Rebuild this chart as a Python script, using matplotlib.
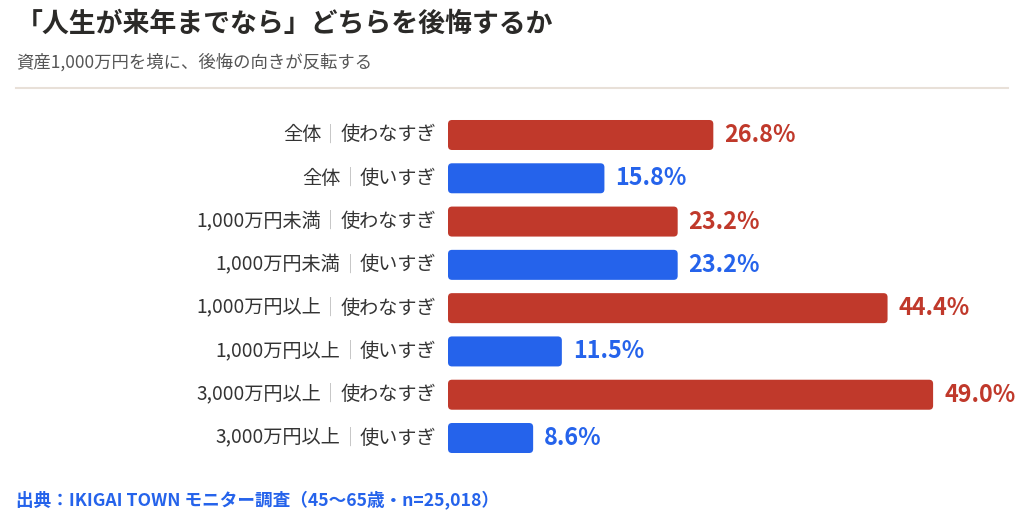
import numpy as np
import matplotlib
matplotlib.use("Agg")
import matplotlib.pyplot as plt
from matplotlib.patches import FancyBboxPatch
from matplotlib.transforms import offset_copy

plt.rcParams['font.family'] = ['Noto Sans CJK JP', 'DejaVu Sans']

# データ
groups = ["全体", "全体", "1,000万円未満", "1,000万円未満",
          "1,000万円以上", "1,000万円以上", "3,000万円以上", "3,000万円以上"]
kinds = ["使わなすぎ", "使いすぎ"] * 4
values = [26.8, 15.8, 23.2, 23.2, 44.4, 11.5, 49.0, 8.6]

RED = "#C0392B"
BLUE = "#2563EB"
colors = [RED if k == "使わなすぎ" else BLUE for k in kinds]

W, H = 1024, 523
fig = plt.figure(figsize=(W / 100, H / 100), dpi=100)
fig.patch.set_facecolor("white")

# 軸の配置(ピクセル)
ax_left, ax_right = 448, 1008
ax_top, ax_bot = 113.35, 459.65
ax = fig.add_axes([ax_left / W, 1 - ax_bot / H, (ax_right - ax_left) / W, (ax_bot - ax_top) / H])
px_per_unit = 9.9
ax.set_xlim(0, (ax_right - ax_left) / px_per_unit)
ax.set_ylim(len(values) - 0.5, -0.5)
ax.axis("off")

y = np.arange(len(values))
bars = ax.barh(y, values, height=0.693, color=colors)

# 角丸に置き換え
y_px_per_unit = (ax_bot - ax_top) / len(values)
for b, c in zip(bars, colors):
    x0, y0 = b.get_x(), b.get_y()
    w, h = b.get_width(), b.get_height()
    b.set_visible(False)
    r = 4 / px_per_unit
    p = FancyBboxPatch((x0, y0), w, h,
                       boxstyle=f"round,pad=0,rounding_size={r}",
                       mutation_aspect=px_per_unit / y_px_per_unit,
                       facecolor=c, edgecolor="none")
    ax.add_patch(p)

# 数値ラベル
for yi, v, c in zip(y, values, colors):
    tr = offset_copy(ax.transData, fig=fig, x=11, y=0, units="dots")
    ax.text(v, yi, f"{v:.1f}%", transform=tr, ha="left", va="center",
            fontsize=16.8, fontweight="bold", color=c)

# カテゴリラベル
for yi, g, k in zip(y, groups, kinds):
    tr = offset_copy(ax.transData, fig=fig, x=-12, y=0, units="dots")
    t1 = ax.text(0, yi, k, transform=tr, ha="right", va="center",
                 fontsize=13.8, color="#333333")
    sep = ax.annotate("｜", xy=(0, 0.5), xycoords=t1, ha="right", va="center",
                      fontsize=13.8, color="#BBBBBB")
    ax.annotate(g, xy=(0, 0.5), xycoords=sep, ha="right", va="center",
                fontsize=13.8, color="#333333")

# タイトル
fig.text(16 / W, 1 - 24 / H, "「人生が来年までなら」どちらを後悔するか",
         ha="left", va="center", fontsize=19.4, fontweight="bold", color="#2B2A28")
fig.text(16 / W, 1 - 62 / H, "資産1,000万円を境に、後悔の向きが反転する",
         ha="left", va="center", fontsize=12.5, color="#555555")
fig.add_artist(plt.Line2D([16 / W, 1008 / W], [1 - 88 / H, 1 - 88 / H],
                          color="#E8E0D8", linewidth=1.5))

# 出典
fig.text(16 / W, 1 - 500 / H, "出典：IKIGAI TOWN モニター調査（45〜65歳・n=25,018）",
         ha="left", va="center", fontsize=12.7, fontweight="bold", color=BLUE)

fig.savefig("out.png", dpi=100)
